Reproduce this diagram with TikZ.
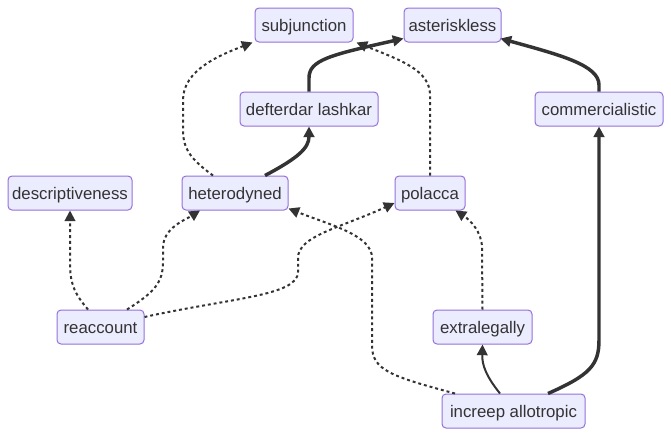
\documentclass[tikz,border=0pt]{standalone}
\usepackage{fontspec}
\setmainfont{Liberation Sans}
\usetikzlibrary{arrows.meta,calc}
\definecolor{boxfill}{HTML}{ECECFF}
\definecolor{boxline}{HTML}{9370DB}
\definecolor{ink}{HTML}{333333}
\begin{document}
\begin{tikzpicture}[x=0.75pt,y=-0.75pt,
  box/.style={draw=boxline, fill=boxfill, rounded corners=3pt, line width=0.75pt,
    text=ink, font=\fontsize{12.6}{14}\selectfont, minimum height=25.5pt, inner xsep=0pt, inner ysep=0pt,
    text height=10.4pt, text depth=1.2pt},
  tip/.style={-{Triangle[length=8pt,width=8pt]}},
  dotl/.style={tip, draw=ink, fill=none, line width=1.5pt, dash pattern=on 2.2pt off 2.2pt},
  thickl/.style={tip, draw=ink, line width=2.6pt},
  norml/.style={tip, draw=ink, line width=1.5pt}]
\useasboundingbox (0,0) rectangle (671,436);
\node[box, minimum width=73.5pt] (sub) at (304,25) {subjunction};
\node[box, minimum width=72.75pt] (ast) at (452.5,25) {asteriskless};
\node[box, minimum width=103.5pt] (def) at (309,109) {defterdar lashkar};
\node[box, minimum width=96pt] (com) at (599,109) {commercialistic};
\node[box, minimum width=93pt] (des) at (70,193) {descriptiveness};
\node[box, minimum width=79.5pt] (het) at (235,193) {heterodyned};
\node[box, minimum width=52.5pt] (pol) at (430,193) {polacca};
\node[box, minimum width=65.25pt] (rea) at (100.5,327) {reaccount};
\node[box, minimum width=74.25pt] (ext) at (482.5,327) {extralegally};
\node[box, minimum width=107.25pt] (inc) at (513.5,411) {increep allotropic};
% het -> sub
\draw[dotl] ($(het.north)+(-22,0)$) .. controls (192,160) and (183,150) .. (183,130) -- (183,100)
  .. controls (183,70) and (220,55) .. ($(sub.south west)+(-2,0)$);
% het -> def
\draw[thickl] ($(het.north)+(30,0)$) .. controls (298,158) and (309,148) .. (def.south);
% def -> ast
\draw[thickl] (def.north) -- (309,78) .. controls (309,60) and (330,55) .. ($(ast.south west)+(0,-4)$);
% pol -> sub
\draw[dotl] (pol.north) -- (430,95) .. controls (430,70) and (400,60) .. ($(sub.south east)+(3,0)$);
% com -> ast
\draw[thickl] (com.north) -- (599,85) .. controls (599,65) and (560,55) .. ($(ast.south east)+(-1,-4)$);
% inc -> com
\draw[thickl] ($(inc.north)+(34.5,0)$) .. controls (590,375) and (599,365) .. (599,340) -- (com.south);
% inc -> ext
\draw[norml] ($(inc.north)+(-13.5,0)$) .. controls (486,376) and (482,365) .. (ext.south);
% ext -> pol
\draw[dotl] (ext.north) -- (482,248) .. controls (482,232) and (470,220) .. ($(pol.south east)+(-10,0)$);
% inc -> het
\draw[dotl] ($(inc.north)+(-58.5,0)$) .. controls (390,376) and (372,370) .. (372,345) -- (372,258)
  .. controls (372,235) and (330,225) .. ($(het.south east)+(0,-2)$);
% rea -> des
\draw[dotl] ($(rea.north)+(-12.5,0)$) .. controls (73,292) and (70,282) .. (70,262) -- (des.south);
% rea -> het
\draw[dotl] ($(rea.north)+(26.5,0)$) .. controls (155,292) and (163,282) .. (163,262) -- (163,248)
  .. controls (163,228) and (185,220) .. ($(het.south)+(-35,0)$);
% rea -> pol
\draw[dotl] ($(rea.east)+(0,-10)$) .. controls (230,298) and (298,296) .. (298,272) -- (298,258)
  .. controls (298,236) and (340,228) .. ($(pol.west)+(0,10)$);
\end{tikzpicture}
\end{document}
